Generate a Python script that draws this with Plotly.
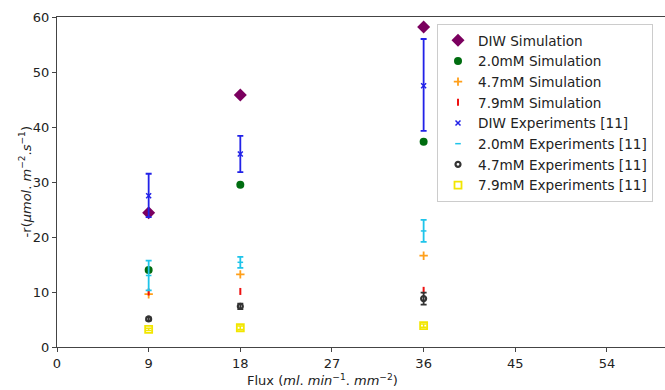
import plotly.graph_objects as go

flux = [9, 18, 36]
x_ticks = [0, 9, 18, 27, 36, 45, 54]
y_ticks = [0, 10, 20, 30, 40, 50, 60]

diw_sim = [24.4, 45.8, 58.2]
mm20_sim = [14.0, 29.5, 37.3]
mm47_sim = [9.6, 13.2, 16.6]
mm79_sim = [10.0, 10.1, 10.3]

diw_exp = [27.5, 35.1, 47.5]
diw_exp_err_plus = [4.0, 3.3, 8.5]
diw_exp_err_minus = [3.9, 3.3, 8.2]
mm20_exp = [13.0, 15.4, 21.1]
mm20_exp_err = [2.7, 1.0, 2.0]
mm47_exp = [5.1, 7.4, 8.8]
mm47_exp_err = [0.3, 0.5, 1.1]
mm79_exp = [3.2, 3.5, 3.9]
mm79_exp_err = [0.2, 0.3, 0.3]

fig = go.Figure()

fig.add_trace(go.Scatter(x=flux, y=diw_sim, mode="markers", name="DIW Simulation",
                         marker=dict(symbol="diamond", size=10, color="#7b005f")))
fig.add_trace(go.Scatter(x=flux, y=mm20_sim, mode="markers", name="2.0mM Simulation",
                         marker=dict(symbol="circle", size=8, color="#006d10")))
fig.add_trace(go.Scatter(x=flux, y=mm47_sim, mode="markers", name="4.7mM Simulation",
                         marker=dict(symbol="cross-thin", size=6, color="#ff9f1a",
                                     line=dict(width=1.8, color="#ff9f1a"))))
fig.add_trace(go.Scatter(x=flux, y=mm79_sim, mode="markers", name="7.9mM Simulation",
                         marker=dict(symbol="line-ns", size=5, color="#ee1111",
                                     line=dict(width=2, color="#ee1111"))))

fig.add_trace(go.Scatter(x=flux, y=diw_exp, mode="markers", name="DIW Experiments [11]",
                         marker=dict(symbol="x-thin", size=5, color="#2222e8",
                                     line=dict(width=1.5, color="#2222e8")),
                         error_y=dict(type="data", array=diw_exp_err_plus,
                                      arrayminus=diw_exp_err_minus,
                                      color="#2222e8", thickness=1.8, width=3)))
fig.add_trace(go.Scatter(x=flux, y=mm20_exp, mode="markers", name="2.0mM Experiments [11]",
                         marker=dict(symbol="line-ew", size=4, color="#1ec4ea",
                                     line=dict(width=1.5, color="#1ec4ea")),
                         error_y=dict(type="data", array=mm20_exp_err,
                                      color="#1ec4ea", thickness=1.8, width=3)))
fig.add_trace(go.Scatter(x=flux, y=mm47_exp, mode="markers", name="4.7mM Experiments [11]",
                         marker=dict(symbol="circle-open", size=5, color="#333333",
                                     line=dict(width=2.2, color="#333333")),
                         error_y=dict(type="data", array=mm47_exp_err,
                                      color="#333333", thickness=1.8, width=3)))
fig.add_trace(go.Scatter(x=flux, y=mm79_exp, mode="markers", name="7.9mM Experiments [11]",
                         marker=dict(symbol="square-open", size=7, color="#f2e600",
                                     line=dict(width=1.8, color="#f2e600")),
                         error_y=dict(type="data", array=mm79_exp_err,
                                      color="#f2e600", thickness=1.5, width=3)))

axis_font = dict(family="DejaVu Sans", size=13, color="#222")
fig.update_layout(
    width=665, height=390,
    margin=dict(l=57, r=0, t=17, b=43, autoexpand=False),
    paper_bgcolor="white", plot_bgcolor="white",
    font=dict(family="DejaVu Sans", size=13, color="#222"),
    showlegend=True,
    legend=dict(x=0.625, y=0.979, xanchor="left", yanchor="top",
                bgcolor="rgba(255,255,255,0.9)", bordercolor="#cccccc", borderwidth=1,
                font=dict(family="DejaVu Sans", size=13.6, color="#222"),
                tracegroupgap=0),
    xaxis=dict(range=[0, 59.7], tickmode="array", tickvals=x_ticks,
               ticktext=[str(v) for v in x_ticks], automargin=False,
               showgrid=False, zeroline=False, showline=True, linecolor="#444",
               linewidth=1, mirror=True, ticks="outside", ticklen=4, tickcolor="#444",
               tickfont=axis_font),
    yaxis=dict(range=[0, 60], tickmode="array", tickvals=y_ticks,
               ticktext=[str(v) for v in y_ticks], automargin=False,
               showgrid=False, zeroline=False, showline=True, linecolor="#444",
               linewidth=1, ticks="outside", ticklen=4, tickcolor="#444",
               tickfont=axis_font),
    annotations=[
        dict(text="Flux (<i>ml</i>. <i>min</i><sup>−1</sup>. <i>mm</i><sup>−2</sup>)",
             xref="paper", yref="paper", x=0.436, y=-0.1, xanchor="center",
             yanchor="middle", showarrow=False, font=axis_font),
        dict(text="-r(<i>μmol</i>. <i>m</i><sup>−2</sup>.<i>s</i><sup>−1</sup>)",
             xref="paper", yref="paper", x=-0.052, y=0.5, xanchor="center",
             yanchor="middle", textangle=-90, showarrow=False, font=axis_font),
    ],
)

fig.write_html("out.html", config={"displayModeBar": False},
               post_script="document.body.style.margin='0';document.body.style.overflow='hidden';")
